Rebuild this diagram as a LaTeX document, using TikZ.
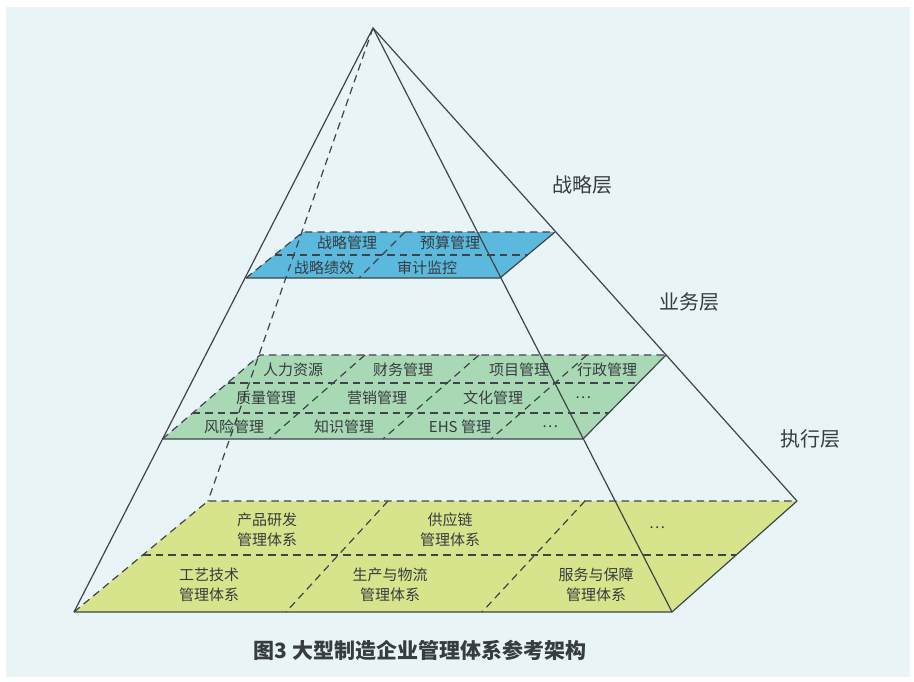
\documentclass[tikz,border=0pt]{standalone}
\usepackage{fontspec}
\newfontfamily\cjk{Noto Sans CJK SC}
\definecolor{bg}{HTML}{E9F4F7}
\definecolor{ln}{HTML}{3E4449}
\definecolor{blueL}{HTML}{5BB9DD}
\definecolor{greenL}{HTML}{A9D9B4}
\definecolor{yelL}{HTML}{D8E48C}
\definecolor{txt}{HTML}{363C40}
\tikzset{
  edge/.style={draw=ln, line width=1.2pt},
  hid/.style={draw=ln, line width=1.2pt, dash pattern=on 7.5pt off 5pt},
  lbl/.style={font=\cjk\fontsize{15}{20}\selectfont, text=txt, inner sep=0pt, align=center},
  lay/.style={font=\cjk\fontsize{20}{24}\selectfont, text=txt, inner sep=0pt},
  captext/.style={font=\cjk\bfseries\fontsize{21}{24}\selectfont, text=txt, inner sep=0pt}
}
\begin{document}
\begin{tikzpicture}[x=1pt,y=-1pt]
\useasboundingbox (0,0) rectangle (914,681);
\fill[white] (0,0) rectangle (914,681);
\fill[bg] (6,7) rectangle (910,677);
% pyramid corners
\coordinate (A) at (373,28);
\coordinate (FL) at (74,612);
\coordinate (FR) at (672,612);
\coordinate (BR) at (797,501);
\coordinate (BL) at (208,501);
% bottom layer
\coordinate (yML) at (143,555);
\coordinate (yMR) at (736,555);
\coordinate (yD1t) at (388,501);
\coordinate (yD1b) at (286,612);
\coordinate (yD2t) at (585,501);
\coordinate (yD2b) at (482,612);
% green layer
\coordinate (gTL) at (260,355);
\coordinate (gTR) at (666,355);
\coordinate (gBR) at (583,439);
\coordinate (gBL) at (162.5,439);
\coordinate (gR1L) at (227.5,383);
\coordinate (gR1R) at (638,383);
\coordinate (gR2L) at (192.7,413);
\coordinate (gR2R) at (608.7,413);
\coordinate (gL1t) at (365,355);
\coordinate (gL1b) at (269,439);
\coordinate (gL2t) at (479,355);
\coordinate (gL2b) at (383,439);
\coordinate (gL3t) at (587,355);
\coordinate (gL3b) at (491,439);
% blue layer
\coordinate (bTL) at (303,232);
\coordinate (bTR) at (555,232);
\coordinate (bBR) at (500,278);
\coordinate (bBL) at (246,278);
\coordinate (bML) at (274.5,255);
\coordinate (bMR) at (527.5,255);
\coordinate (bDt) at (405,232);
\coordinate (bDb) at (359,278);
% fills
\fill[yelL] (FL) -- (FR) -- (BR) -- (BL) -- cycle;
\fill[greenL] (gBL) -- (gBR) -- (gTR) -- (gTL) -- cycle;
\fill[blueL] (bBL) -- (bBR) -- (bTR) -- (bTL) -- cycle;
% dashed layer lines
\draw[hid] (FL) -- (BL) -- (BR);
\draw[hid] (yML) -- (yMR);
\draw[hid] (yD1t) -- (yD1b);
\draw[hid] (yD2t) -- (yD2b);
\draw[hid] (gBL) -- (gTL) -- (gTR);
\draw[hid] (gR1L) -- (gR1R);
\draw[hid] (gR2L) -- (gR2R);
\draw[hid] (gL1t) -- (gL1b);
\draw[hid] (gL2t) -- (gL2b);
\draw[hid] (gL3t) -- (gL3b);
\draw[hid] (bBL) -- (bTL) -- (bTR);
\draw[hid] (bML) -- (bMR);
\draw[hid] (bDt) -- (bDb);
% solid layer edges
\draw[edge] (BR) -- (FR) -- (FL);
\draw[edge] (gTR) -- (gBR) -- (gBL);
\draw[edge] (bTR) -- (bBR) -- (bBL);
% pyramid edges
\draw[edge] (FL) -- (A) -- (BR);
\draw[edge] (A) -- (FR);
\draw[hid] (A) -- (BL);
% blue texts
\node[lbl] (t1) at (347,243) {战略管理};
\node[lbl] (t2) at (450,243) {预算管理};
\node[lbl] (t3) at (324,268) {战略绩效};
\node[lbl] (t4) at (427,268) {审计监控};
% green texts
\node[lbl] (g1) at (293,370) {人力资源};
\node[lbl] (g2) at (403,370) {财务管理};
\node[lbl] (g3) at (519,370) {项目管理};
\node[lbl] (g4) at (607,370) {行政管理};
\node[lbl] (g5) at (266,398) {质量管理};
\node[lbl] (g6) at (377,398) {营销管理};
\node[lbl] (g7) at (493,398) {文化管理};
\node[lbl] (g8) at (583,398) {…};
\node[lbl] (g9) at (234,427) {风险管理};
\node[lbl] (g10) at (344,427) {知识管理};
\node[lbl] (g11) at (460,427) {EHS 管理};
\node[lbl] (g12) at (550,427) {…};
% bottom texts
\node[lbl] (y1) at (267,530) {产品研发\\管理体系};
\node[lbl] (y2) at (450,530) {供应链\\管理体系};
\node[lbl] (y3) at (657,528) {…};
\node[lbl] (y4) at (209,585) {工艺技术\\管理体系};
\node[lbl] (y5) at (390,585) {生产与物流\\管理体系};
\node[lbl] (y6) at (596,585) {服务与保障\\管理体系};
% layer labels
\node[lay] (L1) at (582,185) {战略层};
\node[lay] (L2) at (689,302) {业务层};
\node[lay] (L3) at (810,439) {执行层};
% caption
\node[captext] (cp) at (420,650) {图3 大型制造企业管理体系参考架构};
\end{tikzpicture}
\end{document}
